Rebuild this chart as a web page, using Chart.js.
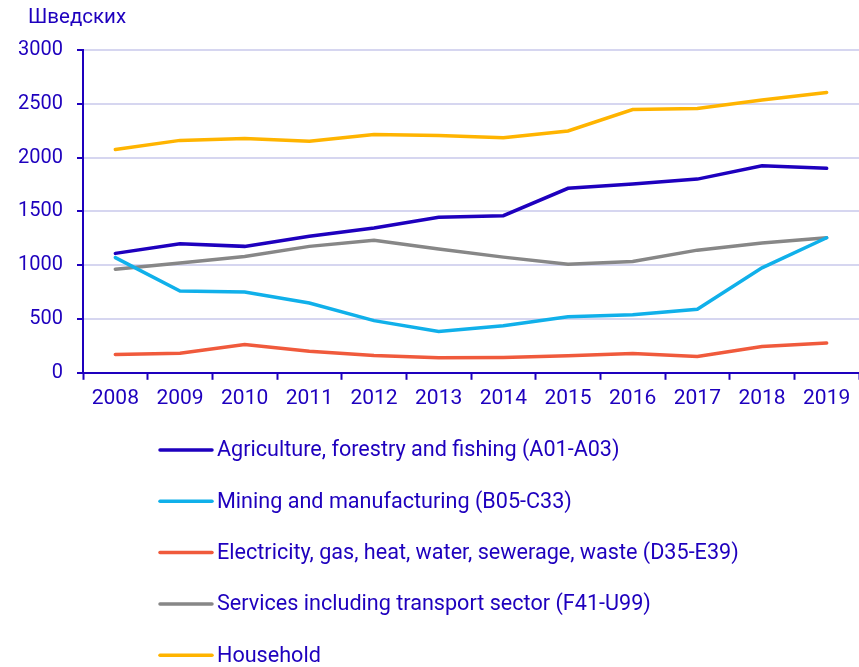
<!DOCTYPE html>
<html>
<head>
<meta charset="utf-8">
<script src="https://cdn.jsdelivr.net/npm/chart.js@4.4.1/dist/chart.umd.min.js"></script>
<style>
  html, body { margin: 0; padding: 0; background: #fff; overflow: hidden; }
  #wrap { position: relative; width: 859px; height: 667px; }
</style>
</head>
<body>
<div id="wrap"><canvas id="chart"></canvas></div>
<script>
/* Categories */
const years = ["2008", "2009", "2010", "2011", "2012", "2013", "2014", "2015", "2016", "2017", "2018", "2019"];

/* Series values */
const agriculture = [1110, 1200, 1175, 1270, 1345, 1445, 1460, 1715, 1755, 1800, 1925, 1900];
const mining = [1070, 760, 750, 648, 485, 385, 438, 520, 540, 590, 975, 1255];
const electricity = [170, 182, 262, 200, 160, 140, 143, 158, 180, 152, 245, 277];
const services = [963, 1020, 1080, 1175, 1232, 1150, 1075, 1008, 1034, 1140, 1207, 1255];
const household = [2075, 2160, 2177, 2152, 2215, 2205, 2185, 2247, 2447, 2457, 2535, 2605];

/* Tick labels */
const yTicks = [0, 500, 1000, 1500, 2000, 2500, 3000];
const unitLabel = "Шведских";

/* Colours */
const TEXT = "#1e00be";
const GRID = "#d6d6f0";

/* Legend drawn as one item per row, plus the unit label at the top */
const rowsLegend = {
  id: "rowsLegend",
  afterDraw: (chart) => {
    const ctx = chart.ctx;
    ctx.save();
    ctx.fillStyle = TEXT;
    ctx.font = "20.5px Roboto";
    ctx.textBaseline = "middle";
    ctx.textAlign = "left";
    ctx.fillText(unitLabel, 28, 18);

    ctx.font = "21.6px Roboto";
    chart.data.datasets.forEach((ds, i) => {
      const y = 450 + i * 51.3;
      ctx.beginPath();
      ctx.moveTo(160, y);
      ctx.lineTo(212, y);
      ctx.lineWidth = 3.5;
      ctx.lineCap = "round";
      ctx.strokeStyle = ds.borderColor;
      ctx.stroke();
      ctx.fillText(ds.label, 217, y + 1);
    });
    ctx.restore();
  },
};

function draw() {
  const ctx = document.getElementById("chart");
  new Chart(ctx, {
    type: "line",
    plugins: [rowsLegend],
    data: {
      labels: years,
      datasets: [
        { label: "Agriculture, forestry and fishing (A01-A03)", data: agriculture, borderColor: "#1e00be" },
        { label: "Mining and manufacturing (B05-C33)", data: mining, borderColor: "#10b0ea" },
        { label: "Electricity, gas, heat, water, sewerage, waste (D35-E39)", data: electricity, borderColor: "#f05a3c" },
        { label: "Services including transport sector (F41-U99)", data: services, borderColor: "#878787" },
        { label: "Household", data: household, borderColor: "#ffb400" },
      ],
    },
    options: {
      responsive: true,
      maintainAspectRatio: false,
      animation: false,
      layout: { padding: { top: 50, left: 17, right: 0, bottom: 250 } },
      elements: {
        line: { borderWidth: 3.5, tension: 0, fill: false, borderCapStyle: "round" },
        point: { radius: 0, hoverRadius: 0 },
      },
      plugins: {
        legend: { display: false },
        title: { display: false },
        tooltip: { enabled: false },
      },
      scales: {
        x: {
          offset: true,
          grid: {
            offset: true,
            drawOnChartArea: false,
            drawTicks: true,
            tickLength: 7,
            tickColor: TEXT,
            tickWidth: 2,
          },
          border: { color: TEXT, width: 2 },
          ticks: { color: TEXT, font: { family: "Roboto", size: 21 }, padding: 6, maxRotation: 0 },
        },
        y: {
          min: 0,
          max: 3000,
          afterBuildTicks: (scale) => {
            scale.ticks = yTicks.map((v) => ({ value: v }));
          },
          /* Fixed axis width so the axis line sits at the same place */
          afterFit: (scale) => {
            scale.width = 66;
          },
          grid: {
            color: GRID,
            lineWidth: 2,
            tickLength: 6,
            tickColor: TEXT,
            tickWidth: 2,
          },
          border: { color: TEXT, width: 2 },
          ticks: {
            color: TEXT,
            font: { family: "Roboto", size: 20 },
            padding: 14,
            callback: (v) => String(v),
          },
        },
      },
    },
  });
}

if (document.fonts && document.fonts.load) {
  document.fonts.load("20px Roboto").then(draw, draw);
} else {
  draw();
}
</script>
</body>
</html>
